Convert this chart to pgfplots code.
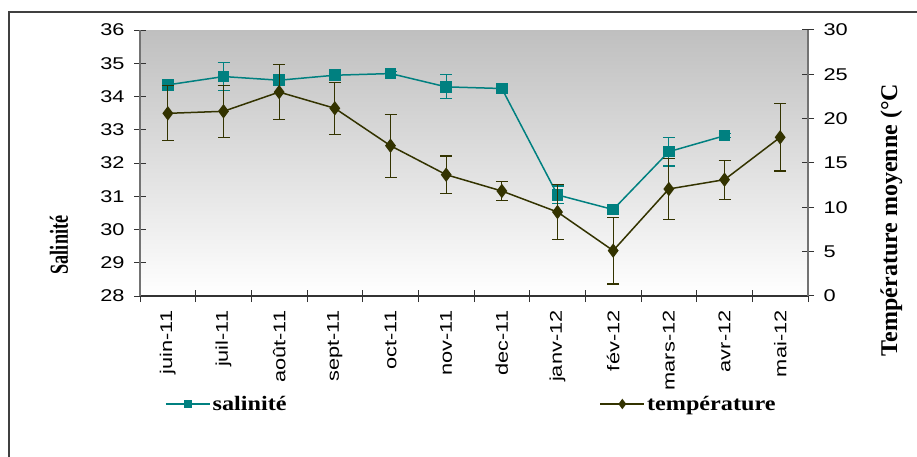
\documentclass[border=0pt]{standalone}
\usepackage{pgfplots}
\usepackage{pgfplotstable}
\pgfplotsset{compat=1.18}
\usepackage{fontspec}
\setmainfont{Liberation Serif}
\newfontfamily\tickfont[FakeStretch=1.28]{Liberation Sans}
\newfontfamily\legfont[FakeStretch=1.18]{Liberation Serif}
\newfontfamily\salfont[FakeStretch=0.7]{Liberation Serif}
\definecolor{salcol}{HTML}{008080}
\definecolor{tempcol}{HTML}{333300}

\pgfplotstableread{
x y err
1 34.35 0.05
2 34.60 0.43
3 34.49 0.05
4 34.64 0.05
5 34.69 0.05
6 34.29 0.36
7 34.24 0.05
8 31.04 0.27
9 30.60 0.06
10 32.34 0.43
11 32.82 0.06
}\saltable

\pgfplotstableread{
x y err
1 20.60 3.10
2 20.83 2.93
3 23.00 3.10
4 21.17 2.93
5 16.95 3.55
6 13.68 2.10
7 11.84 1.10
8 9.47 3.10
9 5.12 3.76
10 12.07 3.40
11 13.12 2.20
12 17.90 3.80
}\temptable

\pgfplotsset{
  common/.style={
    scale only axis, width=668pt, height=266pt,
    xmin=0.5, xmax=12.5,
    tick align=center, major tick length=12pt,
    tick style={black!80, line width=1pt},
    ticklabel style={font=\tickfont\fontsize{17}{20}\selectfont},
    /pgf/number format/assume math mode=true,
    clip=false,
  }
}

\begin{document}
\begin{tikzpicture}[x=1pt,y=1pt]
\clip (-140,-161) rectangle (777,296);
\begin{axis}[common,
  ymin=28, ymax=36,
  axis x line*=bottom, axis y line*=left,
  x axis line style={black!80, line width=1.2pt},
  y axis line style={black!55, line width=1.2pt},
  axis background/.style={top color=black!25, bottom color=white},
  xtick={0.5,1.5,...,12.5},
  xticklabels={juin-11,juil-11,août-11,sept-11,oct-11,nov-11,dec-11,janv-12,fév-12,mars-12,avr-12,mai-12,{}},
  xticklabel style={xshift=27.83pt, yshift=-5pt, rotate=90, anchor=east},
  ytick={28,29,...,36},
  yticklabel style={xshift=-6pt},
  legend style={at={(axis description cs:0.0374,-0.406)}, anchor=west,
    draw=none, fill=none, inner sep=0pt,
    font=\legfont\bfseries\fontsize{20.5}{24}\selectfont,
    nodes={inner sep=2pt},
    /tikz/every even column/.append style={column sep=311pt}},
  legend columns=2,
  legend cell align=left,
  legend image code/.code={\draw[mark repeat=2, mark phase=2, #1] plot coordinates {(0pt,0pt) (22pt,0pt) (44pt,0pt)};},
]
\addplot[forget plot, salcol, line width=1.5pt, mark=square*, mark size=5pt,
  mark options={solid, fill=salcol},
  error bars/.cd, y dir=both, y explicit,
  error bar style={line width=1.2pt, salcol},
  error mark options={rotate=90, mark size=6pt, line width=1.2pt, salcol}]
  table[x=x, y=y, y error=err] {\saltable};
\addlegendimage{salcol, line width=1.5pt, mark=square*, mark size=3pt, mark options={solid, fill=salcol}}
\addlegendentry{salinité}
\addlegendimage{tempcol, line width=1.5pt, mark=diamond*, mark size=4pt, mark options={solid, fill=tempcol}}
\addlegendentry{température}
\end{axis}
\begin{axis}[common,
  ymin=0, ymax=30,
  axis x line=none, axis y line*=right,
  y axis line style={black!55, line width=1.2pt},
  ytick={0,5,...,30},
  yticklabel style={xshift=6pt},
]
\addplot[tempcol, line width=1.5pt, mark=diamond*, mark size=6pt,
  mark options={solid, fill=tempcol},
  error bars/.cd, y dir=both, y explicit,
  error bar style={line width=1.2pt, tempcol},
  error mark options={rotate=90, mark size=6pt, line width=1.2pt, tempcol}]
  table[x=x, y=y, y error=err] {\temptable};
\end{axis}
\node[rotate=90, anchor=base, font=\salfont\bfseries\fontsize{26}{30}\selectfont] at (-72,51) {Salinité};
\node[rotate=90, anchor=base, font=\bfseries\fontsize{24}{28}\selectfont] at (757,76) {Température moyenne (°C};
\draw[line width=1.5pt, black!75] (-131,-174) rectangle (790,284);
\end{tikzpicture}
\end{document}
